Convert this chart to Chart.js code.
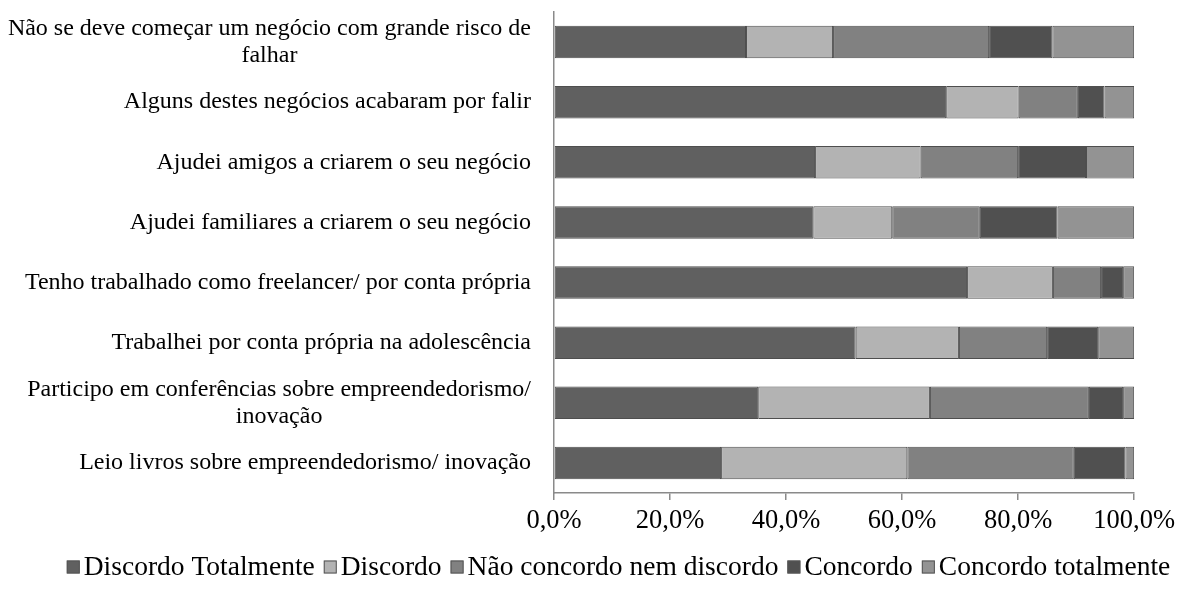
<!DOCTYPE html>
<html>
<head>
<meta charset="utf-8">
<script src="https://cdn.jsdelivr.net/npm/chart.js@4.4.1/dist/chart.umd.min.js"></script>
<style>
  html, body { margin: 0; padding: 0; background: #ffffff; }
  #wrap { width: 1180px; height: 592px; }
</style>
</head>
<body>
<div id="wrap"><canvas id="c" width="1180" height="592"></canvas></div>
<script>
const categories = [
  ["Não se deve começar um negócio com grande risco de", "falhar"],
  ["Alguns destes negócios acabaram por falir"],
  ["Ajudei amigos a criarem o seu negócio"],
  ["Ajudei familiares a criarem o seu negócio"],
  ["Tenho trabalhado como freelancer/ por conta própria"],
  ["Trabalhei por conta própria na adolescência"],
  ["Participo em conferências sobre empreendedorismo/", "inovação"],
  ["Leio livros sobre empreendedorismo/ inovação"]
];
const seriesNames = ["Discordo Totalmente", "Discordo", "Não concordo nem discordo", "Concordo", "Concordo totalmente"];
const discordoTotalmente = [33.1, 67.6, 45.0, 44.7, 71.2, 52.0, 35.2, 28.8];
const discordo           = [15.0, 12.5, 18.2, 13.6, 14.8, 17.8, 29.6, 32.1];
const naoConcordo        = [26.9, 10.2, 16.8, 15.1,  8.3, 15.2, 27.4, 28.7];
const concordo           = [10.9,  4.6, 11.7, 13.4,  3.8,  8.8,  5.9,  8.9];
const concordoTotalmente = [14.1,  5.1,  8.3, 13.2,  1.9,  6.2,  1.9,  1.5];
const xTicks = [0, 20, 40, 60, 80, 100];

const seriesValues = [discordoTotalmente, discordo, naoConcordo, concordo, concordoTotalmente];
const colors = ["#606060", "#b3b3b3", "#818181", "#505050", "#939393"];
const FONT = "'Liberation Serif', 'Times New Roman', serif";

const yLabelPlugin = {
  id: 'yLabels',
  afterDraw(chart) {
    const ctx = chart.ctx;
    const y = chart.scales.y;
    ctx.save();
    ctx.font = "24px " + FONT;
    ctx.fillStyle = "#000000";
    ctx.textBaseline = "middle";
    ctx.textAlign = "center";
    const right = 531;
    const lh = 27;
    chart.data.labels.forEach((lines, i) => {
      const cy = y.getPixelForValue(i);
      let w = 0;
      lines.forEach(l => { w = Math.max(w, ctx.measureText(l).width); });
      const cx = right - w / 2;
      const startY = cy - (lines.length - 1) * lh / 2;
      lines.forEach((l, k) => ctx.fillText(l, cx, startY + k * lh));
    });
    ctx.restore();
  }
};

const legendPlugin = {
  id: 'customLegend',
  afterDraw(chart) {
    const ctx = chart.ctx;
    ctx.save();
    ctx.font = "27.5px " + FONT;
    ctx.textBaseline = "middle";
    ctx.textAlign = "left";
    const box = 13, gapText = 4, gapItem = 9;
    const items = chart.data.datasets.map(d => ({ text: d.label, color: d.backgroundColor }));
    let total = 0;
    items.forEach((it, i) => {
      it.w = ctx.measureText(it.text).width;
      total += box + gapText + it.w + (i < items.length - 1 ? gapItem : 0);
    });
    let x = 618.5 - total / 2;
    const cy = 567;
    items.forEach(it => {
      ctx.fillStyle = it.color;
      ctx.fillRect(x, cy - box / 2, box, box);
      ctx.strokeStyle = "#555555";
      ctx.lineWidth = 1;
      ctx.strokeRect(x + 0.5, cy - box / 2 + 0.5, box - 1, box - 1);
      ctx.fillStyle = "#000000";
      ctx.fillText(it.text, x + box + gapText, cy + 1);
      x += box + gapText + it.w + gapItem;
    });
    ctx.restore();
  }
};

new Chart(document.getElementById('c'), {
  type: 'bar',
  data: {
    labels: categories,
    datasets: seriesNames.map((name, i) => ({
      label: name,
      data: seriesValues[i],
      backgroundColor: colors[i],
      borderColor: "#4e4e4e",
      borderWidth: 1,
      borderSkipped: false,
      barPercentage: 0.54,
      categoryPercentage: 1.0
    }))
  },
  options: {
    indexAxis: 'y',
    responsive: false,
    animation: false,
    layout: { padding: { top: 12, right: 45, left: 0, bottom: 0 } },
    plugins: {
      legend: { display: false },
      tooltip: { enabled: false }
    },
    scales: {
      x: {
        stacked: true,
        min: 0,
        max: 100,
        afterBuildTicks(scale) { scale.ticks = xTicks.map(v => ({ value: v })); },
        afterFit(scale) { scale.height = 99; },
        grid: { drawOnChartArea: false, drawTicks: true, tickLength: 7, color: "#8a8a8a", lineWidth: 1.5 },
        border: { display: true, color: "#8a8a8a", width: 1.5 },
        ticks: {
          padding: 5,
          color: "#000000",
          font: { family: FONT, size: 26.5 },
          maxRotation: 0,
          autoSkip: false,
          callback: v => v.toFixed(1).replace('.', ',') + '%'
        }
      },
      y: {
        stacked: true,
        afterFit(scale) { scale.width = 554; },
        grid: { display: false },
        border: { display: true, color: "#8a8a8a", width: 1.5 },
        ticks: { display: false }
      }
    }
  },
  plugins: [yLabelPlugin, legendPlugin]
});
</script>
</body>
</html>
